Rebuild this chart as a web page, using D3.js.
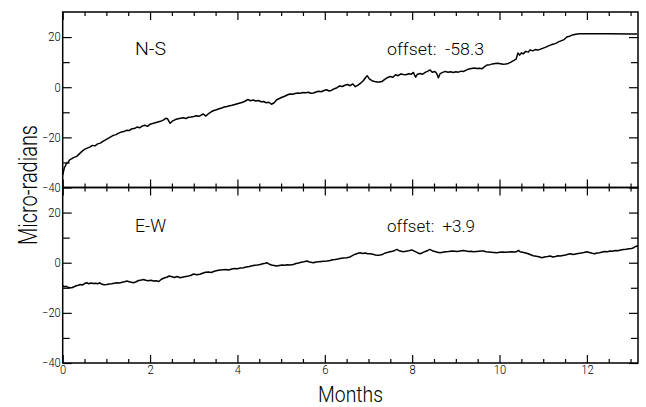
<!DOCTYPE html>
<html>
<head>
<meta charset="utf-8">
<script src="https://cdn.jsdelivr.net/npm/d3@7"></script>
<style>
    body { margin: 0; background: #fff; }
    #chart-area { width: 646px; height: 407px; }
    .tick text { font-family: Roboto, "Liberation Sans", sans-serif; font-weight: 300; font-size: 12px; fill: #000; }
    .label { font-family: Roboto, "Liberation Sans", sans-serif; font-weight: 300; fill: #000; white-space: pre; }
</style>
</head>
<body>
<div id="chart-area"></div>
<script>

// ---- data ----
let nsMonths = [0.00,0.02,0.04,0.06,0.08,0.12,0.16,0.20,0.26,0.32,0.38,0.44,0.50,0.56,0.62,0.68,0.74,0.80,0.86,0.92,0.98,
    1.04,1.10,1.16,1.22,1.28,1.34,1.40,1.46,1.52,1.58,1.64,1.70,1.76,1.82,1.88,1.94,2.00,2.06,2.12,2.18,2.24,2.30,2.36,2.40,
    2.46,2.52,2.58,2.64,2.70,2.76,2.82,2.88,2.94,3.00,3.06,3.12,3.18,3.22,3.28,3.34,3.40,3.46,3.52,3.58,3.64,3.70,3.76,3.82,
    3.88,3.94,4.00,4.06,4.12,4.18,4.24,4.30,4.36,4.42,4.48,4.54,4.60,4.66,4.72,4.78,4.84,4.90,4.96,5.02,5.08,5.14,5.20,5.26,
    5.32,5.38,5.44,5.50,5.56,5.62,5.68,5.74,5.80,5.86,5.92,5.98,6.04,6.10,6.16,6.22,6.28,6.34,6.40,6.46,6.52,6.58,6.64,6.70,
    6.76,6.82,6.88,6.94,6.97,7.02,7.08,7.14,7.20,7.26,7.32,7.38,7.44,7.50,7.56,7.62,7.68,7.74,7.80,7.86,7.92,7.98,8.03,8.06,
    8.08,8.12,8.18,8.24,8.30,8.36,8.41,8.46,8.52,8.56,8.60,8.64,8.70,8.76,8.82,8.88,8.94,9.00,9.06,9.12,9.18,9.24,9.30,9.36,
    9.42,9.48,9.54,9.60,9.66,9.72,9.78,9.84,9.90,9.96,10.02,10.08,10.14,10.20,10.26,10.32,10.38,10.42,10.46,10.50,10.54,10.60,
    10.66,10.70,10.76,10.82,10.88,10.94,11.00,11.06,11.12,11.18,11.24,11.30,11.36,11.42,11.48,11.54,11.60,11.66,11.72,11.78,
    11.84,12.00,12.50,13.00,13.15];
let nsValues = [-35.0,-33.5,-32.0,-31.5,-30.5,-30.0,-29.0,-28.6,-28.0,-27.6,-26.6,-25.6,-24.8,-24.3,-23.9,-23.2,-23.4,-22.6,-22.3,-21.6,-21.0,
    -20.4,-19.8,-19.2,-18.9,-18.3,-17.9,-17.7,-17.2,-17.3,-16.6,-16.5,-15.9,-16.2,-15.5,-15.2,-15.6,-14.8,-14.5,-14.2,-13.9,-13.6,-13.1,-12.4,-12.6,
    -14.4,-13.4,-12.9,-12.6,-12.4,-12.2,-12.5,-12.0,-11.9,-11.7,-11.4,-11.6,-11.0,-10.7,-11.5,-10.5,-9.8,-9.3,-9.0,-8.6,-8.3,-7.9,-7.7,-7.4,
    -7.2,-6.9,-6.6,-6.3,-6.0,-5.5,-4.9,-5.4,-5.1,-5.5,-5.3,-5.8,-5.7,-6.2,-6.0,-6.8,-6.2,-5.0,-4.5,-4.0,-3.6,-3.1,-2.7,-2.8,
    -2.5,-2.3,-2.4,-2.1,-2.2,-2.0,-2.4,-2.3,-1.9,-1.6,-1.8,-1.3,-1.0,-1.5,-1.2,-0.6,-0.2,0.5,0.3,0.8,1.1,0.6,1.3,0.2,
    0.8,1.6,2.6,4.0,4.6,3.3,2.6,2.3,2.1,2.1,2.4,3.2,3.9,4.3,4.0,5.0,4.6,5.3,5.1,5.0,5.4,5.2,5.9,4.6,
    4.0,5.2,5.5,5.2,5.9,6.4,6.9,6.0,6.3,5.6,3.8,5.4,5.9,6.3,6.0,6.2,5.9,6.2,6.0,6.4,6.3,6.8,7.3,7.5,
    7.7,7.5,7.6,7.4,8.2,8.9,9.0,9.3,9.5,9.6,9.4,9.2,9.3,9.5,10.0,10.6,11.2,13.6,12.8,13.7,13.3,14.3,
    14.0,14.9,14.5,15.0,14.8,15.2,15.6,16.0,16.5,16.9,17.2,17.6,18.2,18.6,19.0,20.0,20.3,20.8,21.0,21.2,
    21.3,21.3,21.3,21.2,21.2];

let ewMonths = [0.00,0.04,0.08,0.12,0.16,0.21,0.26,0.31,0.36,0.40,0.45,0.50,0.55,0.60,0.65,0.70,0.75,0.80,0.85,0.90,0.95,
    1.01,1.06,1.12,1.18,1.24,1.30,1.36,1.42,1.47,1.52,1.57,1.62,1.68,1.74,1.80,1.85,1.90,1.96,2.02,2.08,2.14,2.20,2.26,2.32,
    2.38,2.44,2.50,2.56,2.62,2.69,2.76,2.82,2.88,2.94,3.00,3.07,3.14,3.20,3.27,3.34,3.40,3.47,3.54,3.60,3.67,3.74,3.80,3.87,
    3.94,4.00,4.07,4.14,4.20,4.27,4.34,4.40,4.46,4.52,4.58,4.64,4.67,4.72,4.78,4.84,4.90,4.96,5.02,5.08,5.14,5.20,5.28,5.34,
    5.40,5.46,5.52,5.59,5.65,5.74,5.80,5.86,5.92,5.98,6.05,6.12,6.18,6.24,6.30,6.35,6.42,6.50,6.58,6.64,6.70,6.76,6.81,6.87,
    6.93,6.98,7.04,7.10,7.16,7.22,7.27,7.33,7.39,7.45,7.49,7.55,7.60,7.65,7.70,7.75,7.80,7.86,7.92,7.99,8.05,8.12,8.18,8.24,
    8.30,8.36,8.40,8.46,8.52,8.58,8.64,8.70,8.77,8.84,8.91,8.98,9.04,9.10,9.17,9.23,9.29,9.35,9.40,9.47,9.53,9.58,9.63,9.69,
    9.75,9.81,9.87,9.94,10.00,10.07,10.14,10.21,10.28,10.35,10.40,10.43,10.47,10.53,10.60,10.66,10.70,10.77,10.84,10.90,10.97,
    11.03,11.10,11.16,11.22,11.28,11.34,11.39,11.45,11.51,11.57,11.62,11.68,11.74,11.80,11.87,11.93,12.00,12.06,12.12,12.18,
    12.23,12.29,12.35,12.41,12.47,12.53,12.59,12.65,12.71,12.77,12.84,12.90,12.96,13.02,13.07,13.12,13.17];
let ewValues = [-9.1,-9.6,-9.4,-9.8,-10.0,-10.0,-9.6,-9.2,-9.0,-8.7,-8.9,-8.3,-8.0,-8.4,-8.1,-8.3,-8.2,-8.4,-8.0,-8.6,-8.8,
    -8.7,-8.5,-8.4,-8.2,-8.0,-8.1,-7.8,-7.6,-7.3,-7.6,-7.8,-8.0,-7.6,-7.1,-6.9,-6.7,-7.0,-7.2,-7.0,-7.3,-7.2,-7.5,-6.6,-6.1,
    -5.8,-5.3,-5.6,-5.9,-5.5,-6.0,-5.7,-5.5,-5.3,-5.0,-4.5,-4.8,-4.6,-4.2,-3.8,-3.7,-3.9,-3.4,-3.1,-2.9,-2.8,-2.7,-2.9,-2.5,
    -2.3,-2.4,-2.1,-2.0,-1.7,-1.5,-1.2,-1.0,-0.9,-0.7,-0.4,-0.2,0.0,-0.5,-0.9,-1.1,-1.3,-1.1,-0.9,-1.0,-0.8,-0.9,-0.7,-0.3,
    -0.1,0.2,0.4,0.7,0.3,0.0,0.3,0.4,0.5,0.6,0.7,0.9,1.2,1.3,1.5,1.7,1.9,2.0,2.3,2.9,3.4,3.8,4.0,3.7,
    3.9,3.6,3.6,3.4,3.1,3.0,3.1,3.4,3.9,4.2,4.4,4.6,4.9,5.3,4.8,4.6,4.4,4.6,4.8,5.1,4.6,4.0,3.6,4.0,
    4.5,4.9,5.3,4.8,4.5,4.2,4.0,4.2,4.4,4.5,4.7,4.6,4.5,4.7,4.9,4.7,4.5,4.6,4.4,4.5,4.6,4.7,4.7,4.4,
    4.3,4.2,4.1,4.0,4.2,4.3,4.2,4.3,4.4,4.3,4.5,4.9,4.4,4.2,3.9,3.6,3.3,2.8,2.6,2.4,2.0,
    2.3,2.5,2.7,2.3,2.5,2.8,2.7,2.9,3.1,3.4,3.6,3.3,3.5,3.7,3.9,4.1,4.4,4.1,3.8,3.6,
    3.9,4.0,4.3,4.5,4.4,4.7,4.6,4.9,4.8,5.1,5.3,5.4,5.6,5.7,6.0,6.5,6.8];

let panelNames = ["N-S", "E-W"];
let panelOffsets = ["offset:  -58.3", "offset:  +3.9"];
let xMajorTicks = [0, 2, 4, 6, 8, 10, 12];
let yMajorTicks = [20, 0, -20, -40];
let yMinorTicks = [10, -10, -30];


class TiltChart {

    constructor(parentElement) {
        this.parentElement = parentElement;
        this.series = [
            {months: nsMonths, values: nsValues},
            {months: ewMonths, values: ewValues}
        ];
        this.initVis();
    }

    initVis() {
        let vis = this;

        vis.margin = {top: 12, right: 8, bottom: 44, left: 62.7};
        vis.width = 646 - vis.margin.left - vis.margin.right;
        vis.panelHeight = (407 - vis.margin.top - vis.margin.bottom) / 2;

        vis.svg = d3.select("#" + vis.parentElement).append("svg")
            .attr("width", 646)
            .attr("height", 407)
            .append("g")
            .attr("transform", "translate(" + vis.margin.left + "," + vis.margin.top + ")");

        // scales
        vis.x = d3.scaleLinear().domain([0, 13.17]).range([0, vis.width]);
        vis.y = d3.scaleLinear().domain([-40, 30]).range([vis.panelHeight, 0]);

        // minor x ticks every half month
        vis.xMinorTicks = d3.range(0, 13.2, 0.5).filter(d => d % 2 !== 0);

        vis.line = d3.line()
            .x(d => vis.x(d[0]))
            .y(d => vis.y(d[1]));

        vis.wrangleData();
    }

    wrangleData() {
        let vis = this;

        vis.displayData = vis.series.map(s => s.months.map((m, i) => [m, s.values[i]]));

        vis.updateVis();
    }

    updateVis() {
        let vis = this;
        let noDomain = g => g.select(".domain").remove();

        vis.displayData.forEach(function(data, p) {
            let panel = vis.svg.append("g")
                .attr("class", "panel")
                .attr("transform", "translate(0," + (p * vis.panelHeight) + ")");

            // left axis (labels) + minor ticks
            panel.append("g")
                .call(d3.axisLeft(vis.y).tickValues(yMajorTicks).tickSize(-9).tickPadding(2).tickFormat(d3.format("d")))
                .call(noDomain);
            panel.append("g")
                .call(d3.axisLeft(vis.y).tickValues(yMinorTicks).tickSize(-7).tickFormat(""))
                .call(noDomain);

            // right axis, ticks only
            panel.append("g")
                .attr("transform", "translate(" + vis.width + ",0)")
                .call(d3.axisRight(vis.y).tickValues(yMajorTicks).tickSize(-9).tickFormat(""))
                .call(noDomain);
            panel.append("g")
                .attr("transform", "translate(" + vis.width + ",0)")
                .call(d3.axisRight(vis.y).tickValues(yMinorTicks).tickSize(-7).tickFormat(""))
                .call(noDomain);

            // top and bottom x ticks
            panel.append("g")
                .call(d3.axisTop(vis.x).tickValues(xMajorTicks).tickSize(-8).tickFormat(""))
                .call(noDomain);
            panel.append("g")
                .call(d3.axisTop(vis.x).tickValues(vis.xMinorTicks).tickSize(-4).tickFormat(""))
                .call(noDomain);
            panel.append("g")
                .attr("transform", "translate(0," + vis.panelHeight + ")")
                .call(d3.axisBottom(vis.x).tickValues(xMajorTicks).tickSize(-8).tickPadding(2)
                    .tickFormat(p === 1 ? d3.format("d") : ""))
                .call(noDomain);
            panel.append("g")
                .attr("transform", "translate(0," + vis.panelHeight + ")")
                .call(d3.axisBottom(vis.x).tickValues(vis.xMinorTicks).tickSize(-4).tickFormat(""))
                .call(noDomain);

            panel.selectAll(".tick line").attr("stroke", "#000").attr("stroke-width", 1.2);
            panel.selectAll(".tick text").attr("textLength", function() {
                return this.textContent.length * 6.2;
            }).attr("lengthAdjust", "spacingAndGlyphs");

            // frame
            panel.append("rect")
                .attr("width", vis.width)
                .attr("height", vis.panelHeight)
                .attr("fill", "none")
                .attr("stroke", "#000")
                .attr("stroke-width", 1.5);

            // trace
            panel.append("path")
                .datum(data)
                .attr("fill", "none")
                .attr("stroke", "#000")
                .attr("stroke-width", 1.5)
                .attr("stroke-linejoin", "round")
                .attr("d", vis.line);

            // panel texts
            let ty = p === 0 ? 43 : 44.5;
            panel.append("text")
                .attr("class", "label")
                .attr("x", 72.3)
                .attr("y", ty)
                .attr("font-size", 18)
                .attr("textLength", 31)
                .attr("lengthAdjust", "spacingAndGlyphs")
                .text(panelNames[p]);
            panel.append("text")
                .attr("class", "label")
                .attr("x", 324.3)
                .attr("y", ty)
                .attr("font-size", 17)
                .attr("textLength", p === 0 ? 97 : 88)
                .attr("lengthAdjust", "spacingAndGlyphs")
                .text(panelOffsets[p]);
        });

        // axis titles
        vis.svg.append("text")
            .attr("class", "label")
            .attr("transform", "translate(-26," + (185 - vis.margin.top) + ") rotate(-90)")
            .attr("text-anchor", "middle")
            .attr("font-size", 26)
            .attr("textLength", 120)
            .attr("lengthAdjust", "spacingAndGlyphs")
            .text("Micro-radians");

        vis.svg.append("text")
            .attr("class", "label")
            .attr("x", 350.5 - vis.margin.left)
            .attr("y", 402 - vis.margin.top)
            .attr("text-anchor", "middle")
            .attr("font-size", 22)
            .attr("textLength", 65)
            .attr("lengthAdjust", "spacingAndGlyphs")
            .text("Months");
    }
}

new TiltChart("chart-area");
</script>
</body>
</html>
